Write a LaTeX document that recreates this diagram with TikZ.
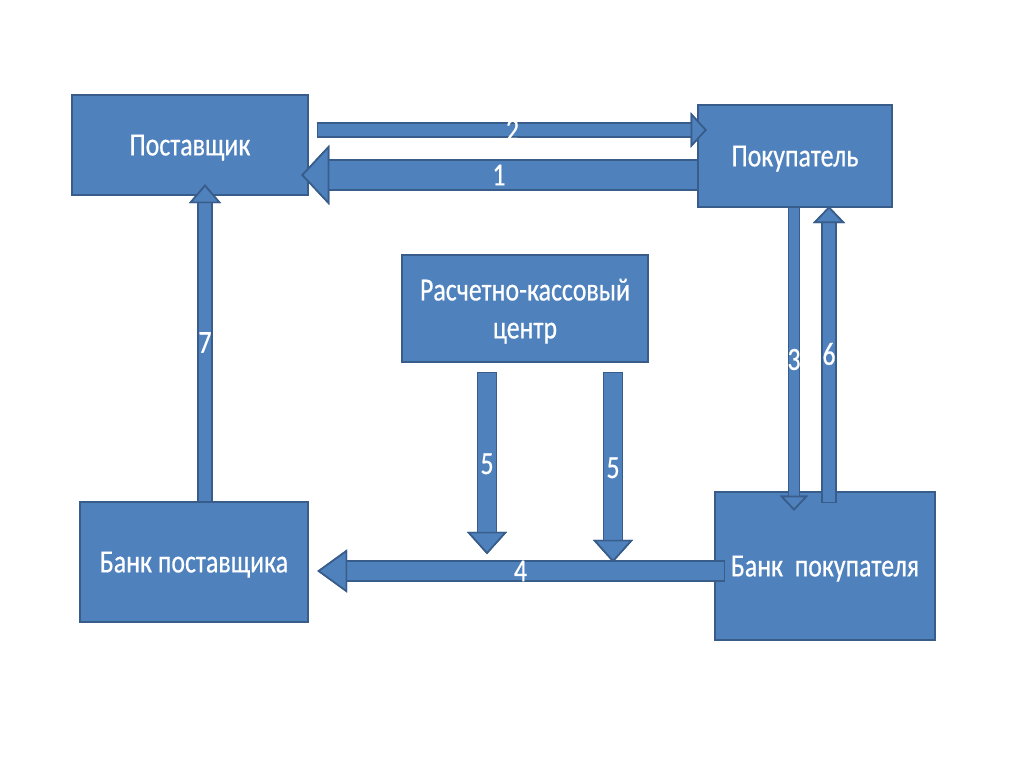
\documentclass[tikz,border=0pt]{standalone}
\usepackage{fontspec}
\setmainfont{Carlito}[FakeStretch=0.8,FakeBold=0.5]
\usepackage{tikz}
\usetikzlibrary{arrows.meta,calc}
\definecolor{boxfill}{RGB}{79,129,189}
\definecolor{boxedge}{RGB}{56,93,138}

\begin{document}
\begin{tikzpicture}[
  x=0.25mm, y=-0.25mm,
  font=\fontsize{23}{27}\selectfont,
  party/.style={draw=boxedge,fill=boxfill,line width=1.8pt,text=white,align=center,inner sep=0pt,text depth=0pt},
  blk/.style n args={3}{draw=boxfill,line width=#1-2.4pt,
    -{Triangle[length=#2,width=#3,line width=1.2pt,color=boxedge,fill=boxfill]},
    preaction={draw=boxedge,line width=#1,shorten <=-1.2pt,
      -{Triangle[length=#2,width=#3,line width=1.2pt,color=boxedge,fill=boxfill]}}},
  num/.style={text=white,inner sep=0pt},
]
\useasboundingbox (0,0) rectangle (1024,767);

% participants
\node[party,minimum width=59mm,minimum height=25mm] (post) at (190,145) {Поставщик};
\node[party,minimum width=48.5mm,minimum height=25.5mm] (pok) at (795,156) {Покупатель};
\node[party,minimum width=61.5mm,minimum height=26.75mm] (rkc) at (525,308.5) {Расчетно-кассовый\\центр};
\node[party,minimum width=57mm,minimum height=30mm] (bpost) at (194,562) {Банк поставщика};
\node[party,minimum width=55mm,minimum height=37mm] (bpok) at (825,566) {Банк~~покупателя};

% junctions on arrow 4
\coordinate (j4a) at ($(rkc.south)+(-38,191)$);
\coordinate (j4b) at ($(rkc.south)+(88,199)$);

% flows
\draw[blk={22.8pt}{20pt}{42.7pt}] ($(pok.west)+(0,19)$) -- ($(post.east)+(-8,30)$) node[num,midway]{1};
\draw[blk={11.4pt}{11.4pt}{24.9pt}] ($(post.east)+(9,-15)$) -- ($(pok.west)+(10,-26)$) node[num,midway]{2};
\draw[blk={9.2pt}{10.7pt}{19.9pt}] ($(pok.south)+(-1,0)$) -- ($(bpok.north)+(-31,20)$) node[num,midway]{3};
\draw[blk={15.6pt}{21.3pt}{30.6pt}] ($(bpok.west)+(10,5)$) -- ($(bpost.east)+(8,9)$) node[num,midway]{4};
\draw[blk={14.6pt}{16pt}{28.5pt}] ($(rkc.south)+(-38,10)$) -- (j4a) node[num,midway]{5};
\draw[blk={14.6pt}{16pt}{28.5pt}] ($(rkc.south)+(88,10)$) -- (j4b) node[num,midway]{5};
\draw[blk={10.7pt}{12pt}{22.8pt}] ($(bpok.north)+(4,11)$) -- ($(pok.south)+(34,-2)$) node[num,midway]{6};
\draw[blk={10.7pt}{13.5pt}{22.8pt}] ($(bpost.north)+(11,0)$) -- ($(post.south)+(15,-12)$) node[num,midway]{7};
\end{tikzpicture}
\end{document}
